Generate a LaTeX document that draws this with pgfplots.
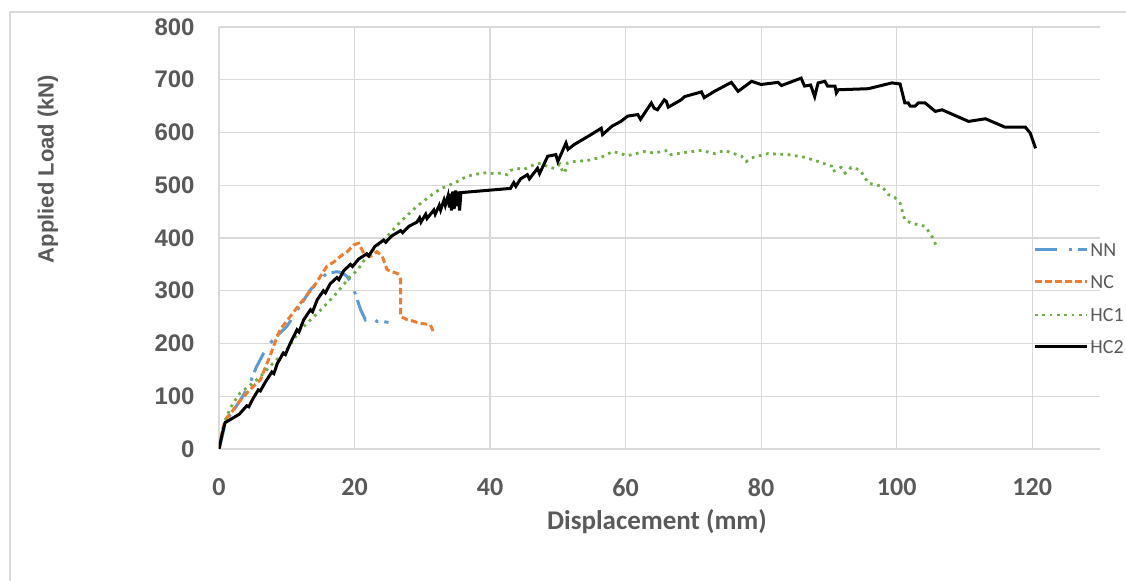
\documentclass[border=0pt]{standalone}
\usepackage{pgfplots}
\pgfplotsset{compat=1.18}
\usepackage{fontspec}
\setmainfont{Carlito}
\newfontfamily\arialfont{Liberation Sans}

\definecolor{nnblue}{HTML}{5B9BD5}
\definecolor{ncorange}{HTML}{ED7D31}
\definecolor{hcgreen}{HTML}{70AD47}
\definecolor{gridgray}{HTML}{D9D9D9}
\definecolor{labelgray}{HTML}{595959}

\tikzset{
  nnstyle/.style={nnblue, line width=1.5pt, dash pattern=on 10.8pt off 6pt on 1.6pt off 3pt},
  ncstyle/.style={ncorange, line width=1.5pt, dash pattern=on 3.3pt off 1.7pt},
  hc1style/.style={hcgreen, line width=1.4pt, dash pattern=on 1.35pt off 2.3pt},
  hc2style/.style={black, line width=1.5pt},
}

\begin{document}
\begin{tikzpicture}
% picture frame: 1126 x 581 px at 0.5pt/px, axis box starts at (219,449) px
\path[use as bounding box] (-109.5pt,-66pt) rectangle (453.5pt,224.5pt);
\draw[gridgray, line width=0.8pt] (-104.5pt,-70pt) -- (-104.5pt,218.5pt) -- (460pt,218.5pt);

\begin{axis}[
    at={(0pt,0pt)}, anchor=south west,
    scale only axis,
    width=440.5pt, height=211pt,
    xmin=0, xmax=130, ymin=0, ymax=800,
    xtick={0,20,...,120},
    ytick={0,100,...,800},
    grid=major,
    major grid style={line width=0.6pt, gridgray},
    axis line style={draw=none},
    major tick length=0pt,
    /pgf/number format/assume math mode=true,
    xticklabel style={font=\fontsize{13pt}{15pt}\selectfont\bfseries, text=labelgray,
        inner sep=0pt, anchor=north, yshift=-14.5pt},
    yticklabel style={font=\arialfont\fontsize{12pt}{14pt}\selectfont\bfseries, text=labelgray,
        inner sep=0pt, anchor=east, xshift=-12pt},
]

% NN
\addplot[nnstyle] coordinates {
(0,0)(0.5,25)(0.9,49)(1.5,62)(2.5,80)(3.5,100)(4.5,122)(5.5,155)(6.6,182)
(7.5,200)(8.5,214)(10,232)(11,252)(12,272)(13.5,302)(14.5,316)(15.9,333)
(17.4,336)(18.2,334)(18.9,327)(19.5,315)(19.9,302)(20.4,283)(20.9,264)
(21.6,245)(22.1,251)(22.7,247)(23.3,242)(24,242)(25,240)
};

% NC
\addplot[ncstyle] coordinates {
(0,0)(0.5,35)(0.9,55)(2.1,74)(3,90)(4.1,106)(5,118)(6.1,131)(7,160)(7.5,175)
(8.2,200)(9,226)(10.5,251)(12,276)(13,292)(14,308)(15,328)(15.9,346)(17,355)
(17.9,365)(19,375)(19.9,387)(20.6,390)(21,380)(21.5,368)(22.3,365)(23.3,374)
(24.1,365)(24.8,340)(25.5,336)(26.3,333)(26.8,321)(26.8,290)(26.8,251)
(27.8,245)(28.5,243)(29.7,238)(30.5,237)(31.2,235)(31.7,220)
};

% HC1
\addplot[hc1style] coordinates {
(0,0)(0.5,30)(1.1,61)(2,85)(3.1,106)(4.5,120)(6.1,137)(8,163)(10,188)(12,226)
(14.5,257)(16.9,289)(19.4,327)(20.5,340)(21.8,365)(23.3,385)(24.8,403)(26.8,431)
(29.2,460)(31.7,485)(33,495)(34.7,504)(36.6,517)(38,521)(39.6,524)(40.5,522)
(41.6,523)(42.5,520)(43,528)(44,532)(45,530)(46.5,539)(47.5,542)(48.5,535)
(49.5,532)(50.3,540)(50.7,526)(51,523)(51.4,542)(52.4,545)(54.4,547)(56.4,553)
(58.1,564)(60.3,556)(62.8,564)(64.2,561)(66.2,566)(66.7,558)(68.7,562)(71.2,566)
(73.1,560)(74.6,566)(77.1,555)(77.8,545)(78.6,552)(81,560)(84,558)(86.4,553)
(88.4,545)(90.4,536)(90.6,526)(91.8,534)(92.4,523)(93.3,534)(94.6,529)(95.8,504)
(97.8,498)(98.8,482)(99.7,477)(100.5,466)(101.2,434)(102.2,428)(104.2,422)
(105.2,403)(105.9,384)
};

% HC2
\addplot[hc2style] coordinates {
(0,0)(0.5,30)(0.9,50)(2.1,59)(3,66)(4.1,82)(4.4,80)(5,95)(5.8,112)(6.1,110)
(6.8,126)(7.8,146)(8.1,143)(8.6,162)(9.5,182)(9.8,179)(10.5,200)(11.5,226)
(11.8,222)(12.5,245)(13.5,264)(13.8,260)(14.5,283)(15.4,300)(15.7,296)
(16.4,313)(17.4,325)(17.7,321)(18.4,338)(19.4,350)(19.7,346)(20.6,360)
(21.8,370)(22.1,366)(23,384)(24.3,396)(24.6,392)(25.5,404)(26.8,414)(27.1,410)
(28,422)(29.2,430)(29.6,438)(29.8,430)(30.5,445)(30.7,437)(31.7,453)(31.9,445)
(32.5,462)(32.7,453)(33.2,472)(33.4,462)(33.8,480)(34,458)(34.1,484)(34.3,452)
(34.5,488)(34.7,455)(34.9,490)(35.1,460)(35.3,488)(35.5,452)(35.7,486)
(43,494)(43.5,505)(43.8,498)(44.5,512)(45.5,520)(45.8,512)(47,532)(47.3,522)
(48.5,555)(49.7,558)(50,545)(51.2,580)(51.5,568)(52.4,577)(54.9,596)(56.4,608)
(56.6,596)(58,612)(59.3,621)(60.3,631)(61.8,634)(62.2,625)(63.8,656)(64.2,646)
(64.7,643)(65.7,662)(66,659)(66.3,648)(68.2,662)(68.7,668)(71.2,677)(71.6,666)
(73.1,678)(75.6,695)(76.6,678)(78.6,697)(80,691)(82.5,695)(83,689)(85.9,703)
(86.4,688)(87.3,690)(87.9,668)(88.4,694)(89.4,697)(89.8,688)(90.9,688)
(91.1,675)(91.4,681)(95.8,683)(99.3,694)(100.5,692)(101.2,656)(101.7,656)
(102,650)(102.7,650)(103.2,656)(104.2,656)(105.7,640)(106.7,643)(110.6,621)
(113.1,626)(116,610)(119,610)(119.7,599)(120.5,570)
};
\end{axis}

% axis titles
\node[font=\fontsize{13.5pt}{16pt}\selectfont\bfseries, text=labelgray] at (219pt,-36.5pt) {Displacement (mm)};
\node[font=\arialfont\fontsize{11pt}{13pt}\selectfont\bfseries, text=labelgray, rotate=90] at (-85.5pt,140pt) {Applied Load (kN)};

% legend
\begin{scope}[every node/.style={font=\fontsize{10pt}{12pt}\selectfont, text=labelgray, anchor=west, inner sep=0pt}]
\draw[nnstyle] (408pt,99.5pt) -- (434pt,99.5pt);
\node at (435.5pt,99.5pt) {NN};
\draw[ncstyle] (408pt,83.5pt) -- (434pt,83.5pt);
\node at (435.5pt,83.5pt) {NC};
\draw[hc1style] (408pt,67pt) -- (434pt,67pt);
\node at (435.5pt,67pt) {HC1};
\draw[hc2style] (408pt,51pt) -- (434pt,51pt);
\node at (435.5pt,51pt) {HC2};
\end{scope}
\end{tikzpicture}
\end{document}
